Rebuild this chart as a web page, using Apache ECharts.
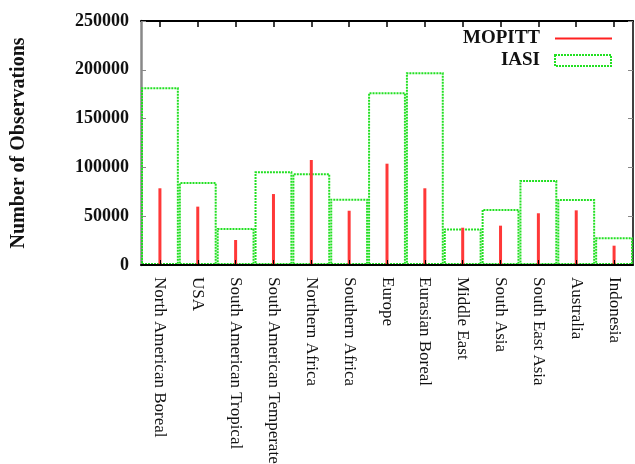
<!DOCTYPE html>
<html><head><meta charset="utf-8">
<script src="https://cdn.jsdelivr.net/npm/echarts@6/dist/echarts.min.js"></script>
<style>html,body{margin:0;padding:0;background:#fff}#c{width:635px;height:464px}</style>
</head><body><div id="c"></div>
<script>
const categories = ['North American Boreal','USA','South American Tropical','South American Temperate','Northern Africa','Southern Africa','Europe','Eurasian Boreal','Middle East','South Asia','South East Asia','Australia','Indonesia'];
const mopitt = [78600, 59800, 25600, 72700, 107600, 55600, 103800, 78600, 38200, 40300, 53000, 56000, 19800];
const iasi = [182000, 85000, 38000, 96000, 94000, 68000, 177000, 197500, 37500, 57500, 87000, 67500, 28500];
const yMin = 0, yMax = 250000, yStep = 50000;

const FONT = 'Liberation Serif';
const chart = echarts.init(document.getElementById('c'));
chart.setOption({
  animation: false,
  backgroundColor: '#fff',
  grid: { left: 141, right: 2, top: 21, bottom: 199, containLabel: false, outerBoundsMode: 'none' },
  legend: [
    { data: ['MOPITT'], right: 18, top: 24, align: 'right', itemWidth: 57, itemHeight: 2, icon: 'rect',
      textStyle: { fontFamily: FONT, fontWeight: 'bold', fontSize: 19, color: '#111', padding: [0, 10, 0, 0] },
      itemStyle: { color: '#ff2020' } },
    { data: ['IASI'], right: 18, top: 46, align: 'right', itemWidth: 56, itemHeight: 11, icon: 'rect',
      textStyle: { fontFamily: FONT, fontWeight: 'bold', fontSize: 19, color: '#111', padding: [0, 10, 0, 0] },
      itemStyle: { color: 'transparent', borderColor: '#22e022', borderWidth: 2, borderType: [2, 1] } }
  ],
  xAxis: [
    { type: 'category', data: categories, position: 'bottom', boundaryGap: true, z: 5,
      axisLine: { show: true, onZero: false, lineStyle: { color: '#000', width: 2 } },
      axisTick: { show: true, inside: true, interval: 0, alignWithLabel: true, length: 5, lineStyle: { color: '#000' } },
      axisLabel: { rotate: -90, interval: 0, margin: 12, fontFamily: FONT, fontSize: 17, color: '#111' } },
    { type: 'category', data: categories, position: 'top', boundaryGap: true, show: true,
      axisLine: { show: true, onZero: false, lineStyle: { color: '#000', width: 2 } },
      axisTick: { show: true, inside: true, interval: 0, alignWithLabel: true, length: 6, lineStyle: { color: '#000', width: 1.5 } },
      axisLabel: { show: false, interval: 0 } }
  ],
  yAxis: [
    { type: 'value', min: yMin, max: yMax, interval: yStep, position: 'left',
      name: 'Number of Observations', nameLocation: 'middle', nameRotate: 90, nameGap: 112,
      nameTextStyle: { fontFamily: FONT, fontWeight: 'bold', fontSize: 20, color: '#111' },
      axisLine: { show: true, lineStyle: { color: '#888', width: 2.5 } },
      axisTick: { show: true, inside: true, length: 5, lineStyle: { color: '#888' } },
      splitLine: { show: false },
      axisLabel: { margin: 12, fontFamily: FONT, fontWeight: 'bold', fontSize: 18, color: '#111',
        formatter: function (v) { return String(v); } } },
    { type: 'value', min: yMin, max: yMax, interval: yStep, position: 'right',
      axisLine: { show: true, lineStyle: { color: '#000', width: 1.5 } },
      axisTick: { show: true, inside: true, length: 5, lineStyle: { color: '#888' } },
      splitLine: { show: false },
      axisLabel: { show: false } }
  ],
  series: [
    { name: 'IASI', type: 'bar', xAxisIndex: 0, yAxisIndex: 0, data: iasi, barWidth: '100%',
      itemStyle: { color: 'transparent', borderColor: '#22e022', borderWidth: 2, borderType: [2, 1] } },
    { name: 'MOPITT', type: 'bar', xAxisIndex: 1, yAxisIndex: 0, data: mopitt, barWidth: 3,
      itemStyle: { color: '#ff3838' } }
  ]
});
</script></body></html>
